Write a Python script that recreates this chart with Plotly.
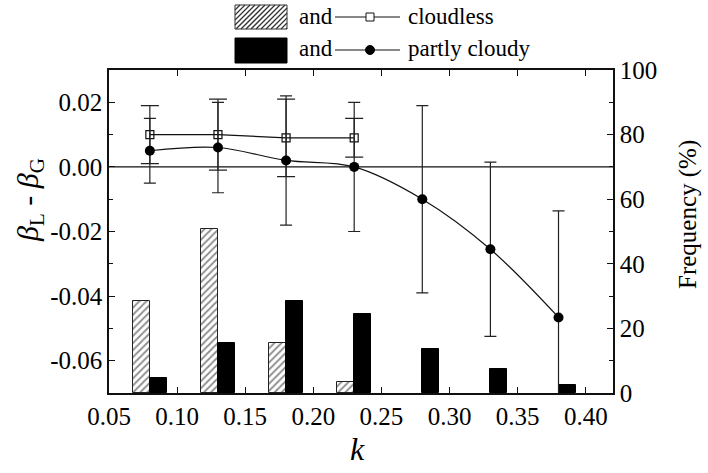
import plotly.graph_objects as go

# ---- data ----
k_cloudless = [0.08, 0.13, 0.18, 0.23]
beta_cloudless = [0.010, 0.010, 0.009, 0.009]
err_cloudless = [0.009, 0.011, 0.012, 0.006]
freq_cloudless = [28.5, 50.7, 15.4, 3.3]

k_partly = [0.08, 0.13, 0.18, 0.23, 0.28, 0.33, 0.38]
beta_partly = [0.005, 0.006, 0.002, 0.000, -0.010, -0.0255, -0.0466]
err_partly = [0.010, 0.014, 0.020, 0.020, 0.029, 0.027, 0.033]
freq_partly = [4.5, 15.4, 28.5, 24.6, 13.7, 7.5, 2.5]

x_ticks = [0.05, 0.10, 0.15, 0.20, 0.25, 0.30, 0.35, 0.40]
beta_ticks = [-0.06, -0.04, -0.02, 0.00, 0.02]
freq_ticks = [0, 20, 40, 60, 80, 100]

FONT = "Liberation Serif, Times New Roman, serif"
W, H = 708, 473
ML, MR, MT, MB = 109, 95, 70, 80
PW, PH = W - ML - MR, H - MT - MB
BW = 0.0125

def px(x):
    return (x - ML) / PW

def py(y):
    return (H - MB - y) / PH

fig = go.Figure()
fig.add_trace(go.Bar(
    x=k_cloudless, y=freq_cloudless, width=BW, offset=-BW,
    marker=dict(color="white", line=dict(color="#222", width=1),
                pattern=dict(shape="/", fgcolor="#222", bgcolor="white", size=5, solidity=0.4)),
    yaxis="y", showlegend=False))
fig.add_trace(go.Bar(
    x=k_partly, y=freq_partly, width=BW, offset=0,
    marker=dict(color="black", line=dict(color="black", width=1)),
    yaxis="y", showlegend=False))
fig.add_trace(go.Scatter(
    x=k_cloudless, y=beta_cloudless, yaxis="y2", mode="lines+markers",
    line=dict(color="#111", width=1.2),
    marker=dict(symbol="square-open", size=8, color="#111", line=dict(width=1.2)),
    error_y=dict(type="data", array=err_cloudless, color="#222", thickness=1.2, width=9),
    showlegend=False))
fig.add_trace(go.Scatter(
    x=k_partly, y=beta_partly, yaxis="y2", mode="lines+markers",
    line=dict(color="#111", width=1.2, shape="spline", smoothing=1),
    marker=dict(symbol="circle", size=10, color="black"),
    error_y=dict(type="data", array=err_partly, color="#222", thickness=1.2, width=6),
    showlegend=False))

shapes = [dict(type="line", xref="paper", x0=0, x1=1, yref="y2", y0=0, y1=0,
               line=dict(color="#111", width=1.2), layer="below")]

def rect(x0, y0, x1, y1, fill, lc="#333"):
    shapes.append(dict(type="rect", xref="paper", yref="paper",
                       x0=px(x0), x1=px(x1), y0=py(y1), y1=py(y0),
                       fillcolor=fill, line=dict(color=lc, width=1)))

def seg(x0, y0, x1, y1, color="#222", w=1.0):
    shapes.append(dict(type="line", xref="paper", yref="paper",
                       x0=px(x0), x1=px(x1), y0=py(y0), y1=py(y1),
                       line=dict(color=color, width=w)))

# legend: hatched swatch
sx0, sy0, sx1, sy1 = 235, 5, 287, 29
rect(sx0, sy0, sx1, sy1, "white")
h = sy1 - sy0
c = sx0 - h
while c < sx1:
    ax, ay, bx, by = c, sy1, c + h, sy0
    if ax < sx0:
        ay = ay - (sx0 - ax)
        ax = sx0
    if bx > sx1:
        by = by + (bx - sx1)
        bx = sx1
    if bx > ax:
        seg(ax, ay, bx, by, "#333", 1.3)
    c += 5
# legend: black swatch
rect(235, 38, 287, 63, "black", "black")
# legend: line samples
seg(335, 17, 400, 17, "#111", 1.2)
rect(366, 13, 374, 21, "white", "#111")
seg(335, 50, 400, 50, "#111", 1.2)
shapes.append(dict(type="circle", xref="paper", yref="paper",
                   x0=px(365.5), x1=px(374.5), y0=py(54.5), y1=py(45.5),
                   fillcolor="black", line=dict(color="black", width=1)))

annotations = []
def txt(x, y, s, size=23, anchor="left", angle=0):
    annotations.append(dict(xref="paper", yref="paper", x=px(x), y=py(y), text=s,
                            showarrow=False, xanchor=anchor, yanchor="middle",
                            textangle=angle,
                            font=dict(family=FONT, size=size, color="black")))

txt(297, 16, "and")
txt(406, 16, "cloudless")
txt(297, 49, "and")
txt(406, 49, "partly cloudy")

txt(357, 449, "<i>k</i>", size=32, anchor="center")
txt(30, 200, "<i>β</i><sub>L</sub> - <i>β</i><sub>G</sub>", size=30, anchor="center", angle=-90)
txt(688, 215, "Frequency (%)", size=25, anchor="center", angle=-90)

tickfont = dict(family=FONT, size=25, color="black")

fig.update_layout(
    width=W, height=H,
    margin=dict(l=ML, r=MR, t=MT, b=MB, pad=0),
    paper_bgcolor="white", plot_bgcolor="white",
    font=dict(family=FONT),
    barmode="overlay", bargap=0,
    shapes=shapes, annotations=annotations,
    xaxis=dict(range=[0.05, 0.42], tickvals=x_ticks,
               ticktext=[f"{v:.2f}" for v in x_ticks],
               ticks="inside", ticklen=6, tickwidth=1.2, tickcolor="#111",
               showline=True, linecolor="#111", linewidth=1.5, mirror="ticks",
               showgrid=False, zeroline=False, tickfont=tickfont),
    yaxis=dict(range=[0, 100], tickvals=freq_ticks, side="right",
               ticktext=[str(v) for v in freq_ticks],
               ticks="inside", ticklen=6, tickwidth=1.2, tickcolor="#111",
               minor=dict(dtick=10, ticks="inside", ticklen=4, tickcolor="#111"),
               showline=True, linecolor="#111", linewidth=1.5,
               showgrid=False, zeroline=False, tickfont=tickfont),
    yaxis2=dict(range=[-0.07, 0.03], tickvals=beta_ticks,
                ticktext=[f"{v:.2f}".replace("-0.00", "0.00") for v in beta_ticks],
                overlaying="y", side="left",
                ticks="inside", ticklen=6, tickwidth=1.2, tickcolor="#111",
                minor=dict(dtick=0.01, tick0=0, ticks="inside", ticklen=4, tickcolor="#111"),
                showline=True, linecolor="#111", linewidth=1.5,
                showgrid=False, zeroline=False, tickfont=tickfont),
)

fig.write_html("out.html")
